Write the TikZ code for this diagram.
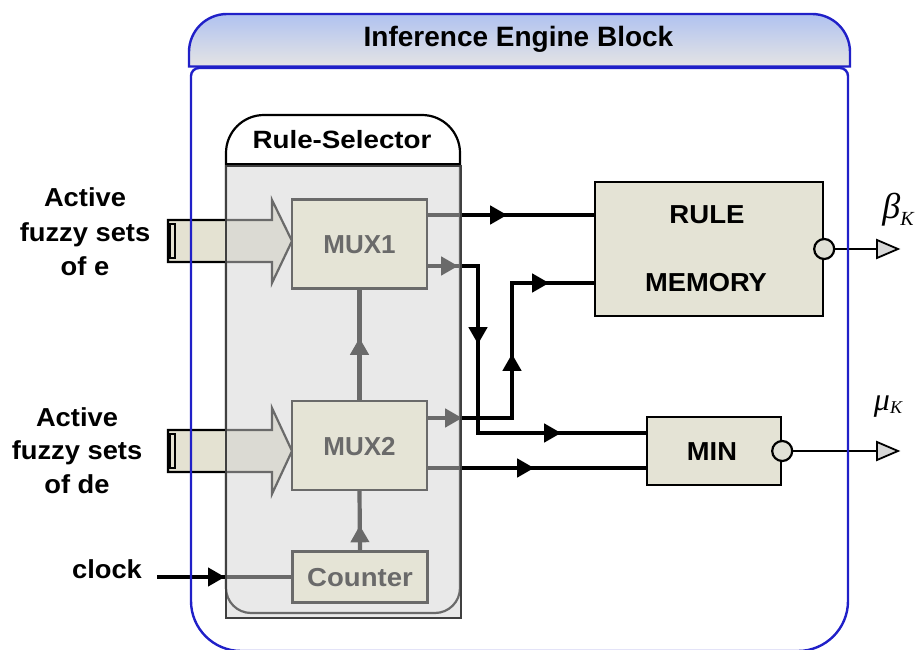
\documentclass[tikz,border=0pt]{standalone}
\usepackage{fontspec}
\setsansfont{Liberation Sans}
\newfontfamily\grkfont{Liberation Serif}
\usetikzlibrary{arrows.meta,decorations.markings}

\definecolor{blueline}{RGB}{32,32,200}
\definecolor{hdrtop}{RGB}{176,194,240}
\definecolor{hdrmid}{RGB}{246,246,246}
\definecolor{hdrbot}{RGB}{228,228,228}
\definecolor{boxfill}{RGB}{228,227,213}
\definecolor{muxfill}{RGB}{248,246,218}
\definecolor{fatfill}{RGB}{228,226,210}
\definecolor{veil}{RGB}{212,212,212}
\definecolor{tipfill}{RGB}{216,216,216}
\definecolor{dotfill}{RGB}{224,224,214}

\newcommand{\wid}[2]{\scalebox{#1}[1]{#2}}

\tikzset{
  lbl/.style={font=\sffamily\bfseries\fontsize{26}{30}\selectfont,
    inner sep=0pt, text height=19pt, text depth=0pt},
  boxed/.style={draw=black, line width=2.4pt, inner sep=0pt},
  muxbox/.style={boxed, fill=muxfill, minimum width=135pt, minimum height=89pt},
  membox/.style={boxed, fill=boxfill},
  sigline/.style={line width=4.2pt},
  midtip/.style={postaction={decorate, decoration={markings,
    mark=at position #1 with {\arrow{Triangle[length=17pt,width=18pt]}}}}},
  fat/.style={draw=black, line width=2.2pt, fill=fatfill, line join=miter},
  outdot/.style={circle, draw=black, line width=2.2pt, fill=dotfill,
    minimum size=20pt, inner sep=0pt},
  outwire/.style={line width=1.8pt},
  tipshape/.style={draw=black, line width=1.8pt, fill=tipfill, line join=miter},
  blueedge/.style={draw=blueline, line width=2.4pt},
  grk/.style={inner sep=0pt, font=\grkfont\itshape},
}

\begin{document}
\begin{tikzpicture}[x=1pt, y=-1pt]
\useasboundingbox (0,0) rectangle (922,650);
\clip (0,0) rectangle (922,650);

% inference engine block: body and title bar fills
\path[fill=white] (191,76) .. controls (191,71.6) and (194.6,68) .. (199,68)
  -- (840,68) .. controls (844.4,68) and (848,71.6) .. (848,76)
  -- (848,601) .. controls (848,628.6) and (825.6,651) .. (798,651)
  -- (241,651) .. controls (213.4,651) and (191,628.6) .. (191,601) -- cycle;
\shade[top color=hdrtop, middle color=hdrmid, bottom color=hdrbot]
  (189,66.5) -- (189,52) .. controls (189,31) and (206,14) .. (227,14)
  -- (812,14) .. controls (833,14) and (850,31) .. (850,52) -- (850,66.5) -- cycle;
\node[font=\sffamily\bfseries\fontsize{28}{32}\selectfont, inner sep=0pt,
  text height=20pt, text depth=0pt] (title) at (518.5,37)
  {Inference Engine Block};

% rule selector frame
\draw[line width=2.2pt, fill=white]
  (226,153) .. controls (226,132) and (243,115) .. (264,115)
  -- (422,115) .. controls (443,115) and (460,132) .. (460,153)
  -- (460,588) .. controls (460,601.8) and (448.8,613) .. (435,613)
  -- (251,613) .. controls (237.2,613) and (226,601.8) .. (226,588) -- cycle;
\draw[line width=3pt] (226,165) -- (460,165);
\node[font=\sffamily\bfseries\fontsize{25}{29}\selectfont, inner sep=0pt,
  text height=18pt, text depth=0pt] (rstitle) at (342,139.5)
  {\wid{1.11}{Rule-Selector}};

% fuzzy-set input buses
\draw[fat] (168,220) -- (272,220) -- (272,200) -- (292,241) -- (272,283)
  -- (272,262) -- (168,262) -- cycle;
\draw[fat] (170,224) rectangle (175,258);
\draw[fat] (168,430) -- (272,430) -- (272,408) -- (292,451) -- (272,494)
  -- (272,472) -- (168,472) -- cycle;
\draw[fat] (170,434) rectangle (175,468);

% multiplexers and counter
\node[muxbox, lbl] (mux1) at (359.5,244) {MUX1};
\node[muxbox, lbl] (mux2) at (359.5,445.5) {MUX2};
\node[muxbox, lbl, minimum height=51pt] (cnt) at (360,577) {\wid{1.06}{Counter}};

% result memory and min unit
\node[membox, minimum width=228pt, minimum height=134pt] (mem) at (709,249) {};
\node[lbl] (memA) at (707,214) {\wid{1.06}{RULE}};
\node[lbl] (memB) at (706,282) {\wid{1.05}{MEMORY}};
\node[membox, minimum width=134pt, minimum height=68pt] (mn) at (714,451) {};
\node[lbl] (mnlbl) at (712,451) {\wid{1.05}{MIN}};

% control signals
\coordinate (clk) at (157,577);
\draw[sigline, midtip=68pt] (clk) -- (cnt.west);
\draw[sigline, midtip=25pt] (cnt.north) -- (mux2.south);
\draw[sigline, midtip=62pt] (mux2.north) -- (mux1.south);

% selected rule data
\draw[sigline, midtip=79pt] (mux1.east |- 0,215) -- (mem.west |- 0,215);
\draw[sigline, midtip=30pt, midtip=128pt, midtip=300pt]
  (mux1.east |- 0,266) -| (478,433) -- (mn.west |- 0,433);
\draw[sigline, midtip=34pt, midtip=148pt, midtip=256pt]
  (mux2.east |- 0,418) -| (512,283) -- (mem.west |- 0,283);
\draw[sigline, midtip=106pt] (mux2.east |- 0,468) -- (mn.west |- 0,468);

% translucent selector body
\draw[fill=veil, fill opacity=0.5, draw=black!75, line width=1.6pt]
  (226,166) rectangle (461,618);

% input labels
\node[lbl] (e1) at (85,197) {\wid{1.05}{Active}};
\node[lbl] (e2) at (85,231.5) {\wid{1.05}{fuzzy sets}};
\node[lbl] (e3) at (85,266) {\wid{1.05}{of e}};
\node[lbl] (d1) at (77,416.5) {\wid{1.05}{Active}};
\node[lbl] (d2) at (77,450) {\wid{1.05}{fuzzy sets}};
\node[lbl] (d3) at (77,484) {\wid{1.05}{of de}};
\node[lbl] (clklbl) at (107,568.5) {\wid{1.05}{clock}};

% outputs
\node[outdot] (o1dot) at (mem.east) {};
\node[outdot] (o2dot) at (mn.east) {};
\coordinate (o1) at (877,249);
\coordinate (o2) at (877,451);
\draw[outwire] (o1dot.east) -- (o1);
\draw[outwire] (o2dot.east) -- (o2);
\draw[tipshape] (o1) -- ++(0,-9) -- ++(21,9) -- ++(-21,9) -- cycle;
\draw[tipshape] (o2) -- ++(0,-9) -- ++(21,9) -- ++(-21,9) -- cycle;
\node[grk] (beta) at (898,210)
  {\fontsize{36}{40}\selectfont β\raisebox{-7pt}{\fontsize{20}{24}\selectfont K}};
\node[grk] (mu) at (888,407)
  {\fontsize{32}{36}\selectfont μ\raisebox{-3pt}{\fontsize{18}{21}\selectfont K}};

% blue outlines
\draw[blueedge] (191,76) .. controls (191,71.6) and (194.6,68) .. (199,68)
  -- (840,68) .. controls (844.4,68) and (848,71.6) .. (848,76)
  -- (848,601) .. controls (848,628.6) and (825.6,651) .. (798,651)
  -- (241,651) .. controls (213.4,651) and (191,628.6) .. (191,601) -- cycle;
\draw[blueedge] (189,66.5) -- (189,52) .. controls (189,31) and (206,14) .. (227,14)
  -- (812,14) .. controls (833,14) and (850,31) .. (850,52) -- (850,66.5) -- cycle;
\end{tikzpicture}
\end{document}
